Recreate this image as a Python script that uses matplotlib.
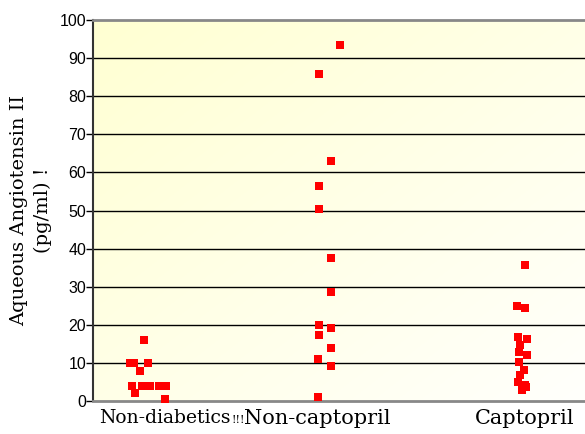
import numpy as np
import matplotlib.pyplot as plt

# group centres on a 0-492 horizontal scale (plot width in px) and jitter offsets
centres = [55, 232, 429]

nondiab_dx = [-18, -14, -4, 0, -8, -16, -6, 2, 11, 18, -13, 17]
nondiab_y = [10, 10, 16, 10, 8, 4, 4, 4, 4, 4, 2, 0.5]

noncap_dx = [15, -6, 6, -6, -6, 6, 6, -6, -6, 6, 6, -7, 6, -7]
noncap_y = [93.5, 85.7, 62.9, 56.3, 50.5, 37.6, 28.6, 19.9, 17.4, 19.2, 14.0, 11.1, 9.1, 1.1]

cap_dx = [3, -5, 3, -4, 5, -2, -3, 5, -3, 2, -2, -4, 3, 0, 4]
cap_y = [35.7, 24.9, 24.4, 16.8, 16.4, 14.7, 12.9, 12.1, 10.2, 8.1, 6.8, 5.0, 4.3, 2.9, 3.6]

yticks = list(range(0, 101, 10))

fig = plt.figure(figsize=(5.85, 4.34), dpi=100)
ax = fig.add_axes([93 / 585, 1 - 401 / 434, 1 - 93 / 585, (401 - 20) / 434])

# yellow (top-left) to white (bottom-right) gradient
gx, gy = np.meshgrid(np.linspace(0, 1, 200), np.linspace(0, 1, 200))
g = (gx + gy) / 2
c0 = np.array([255, 255, 210]) / 255
c1 = np.array([255, 255, 252]) / 255
img = c0[None, None, :] * (1 - g[..., None]) + c1[None, None, :] * g[..., None]
ax.imshow(img, extent=[0, 1, 0, 1], transform=ax.transAxes, origin='upper',
          aspect='auto', zorder=0)

ax.set_xlim(0, 492)
ax.set_ylim(0, 100)

for v in yticks[1:-1]:
    ax.axhline(v, color='black', lw=1, zorder=1)

ms = 6
ax.plot(np.array(nondiab_dx) + centres[0], nondiab_y, 's', color='#ff0000', ms=ms, mew=0, zorder=3, clip_on=False)
ax.plot(np.array(noncap_dx) + centres[1], noncap_y, 's', color='#ff0000', ms=ms, mew=0, zorder=3, clip_on=False)
ax.plot(np.array(cap_dx) + centres[2], cap_y, 's', color='#ff0000', ms=ms, mew=0, zorder=3, clip_on=False)

ax.spines['right'].set_visible(False)
ax.spines['top'].set_color('#888888')
ax.spines['top'].set_linewidth(2)
ax.spines['bottom'].set_color('#888888')
ax.spines['bottom'].set_linewidth(2)
ax.spines['left'].set_color('#333333')
ax.spines['left'].set_linewidth(1.5)

ax.set_yticks(yticks)
ax.set_yticklabels([str(v) for v in yticks], fontsize=11.5, family='Liberation Sans')
ax.tick_params(axis='y', direction='out', length=5, width=1, pad=0)
ax.set_xticks([])

ax.set_ylabel('Aqueous Angiotensin II\n(pg/ml) !', family='DejaVu Serif', fontsize=14,
              linespacing=1.4, labelpad=5)

tf = ax.get_xaxis_transform()
ax.text(164.5 - 93, -0.022, 'Non-diabetics', transform=tf, ha='center', va='top',
        family='DejaVu Serif', fontsize=13.5)
ax.text(238 - 93, -0.037, '!!!', transform=tf, ha='center', va='top',
        family='DejaVu Serif', fontsize=8)
ax.text(317.5 - 93, -0.022, 'Non-captopril', transform=tf, ha='center', va='top',
        family='DejaVu Serif', fontsize=15)
ax.text(525 - 93, -0.022, 'Captopril', transform=tf, ha='center', va='top',
        family='DejaVu Serif', fontsize=15)

fig.savefig('out.png', dpi=100)
